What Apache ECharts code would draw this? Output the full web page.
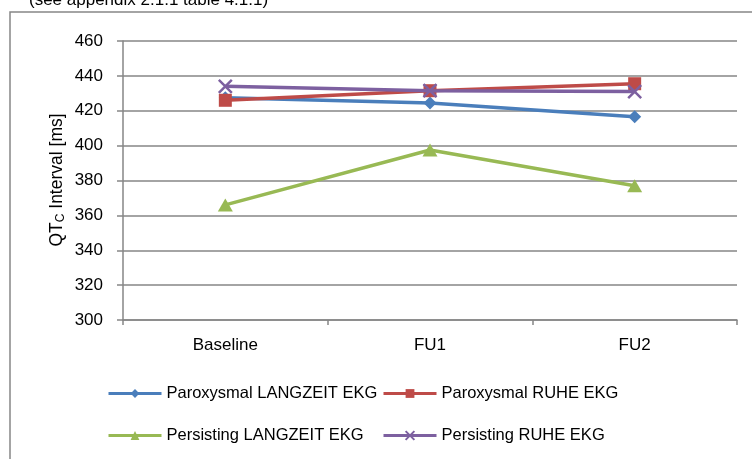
<!DOCTYPE html>
<html>
<head>
<meta charset="utf-8">
<script src="https://cdn.jsdelivr.net/npm/echarts@6/dist/echarts.min.js"></script>
<style>
html,body{margin:0;padding:0;background:#fff;}
#c{width:752px;height:459px;}
</style>
</head>
<body>
<div id="c"></div>
<script>
const categories = ['Baseline', 'FU1', 'FU2'];
const seriesNames = ['Paroxysmal LANGZEIT EKG', 'Paroxysmal RUHE EKG', 'Persisting LANGZEIT EKG', 'Persisting RUHE EKG'];
const paroxysmalLangzeit = [427.5, 424.5, 416.5];
const paroxysmalRuhe = [426, 431.5, 435.5];
const persistingLangzeit = [366, 397.5, 377];
const persistingRuhe = [434, 431.5, 431];
const yMin = 300, yMax = 460, yStep = 20;
const yAxisTitle = '{a|QT}{s|C}{a| Interval [ms]}';
const topNote = '(see appendix 2.1.1 table 4.1.1)';

const FONT = '"Liberation Sans", Arial, sans-serif';
const GRAY = '#868686';
const colors = ['#4A7EBB', '#BE4B48', '#98B954', '#7D60A0'];
const symbols = ['diamond', 'rect', 'triangle', 'path://M0,0L10,10M10,0L0,10'];
const sizes = [13, 13, [15, 13], 13];
const dataSets = [paroxysmalLangzeit, paroxysmalRuhe, persistingLangzeit, persistingRuhe];

const chart = echarts.init(document.getElementById('c'), null, {renderer: 'canvas'});

const series = seriesNames.map((name, i) => ({
  name: name,
  type: 'line',
  data: dataSets[i],
  symbol: symbols[i],
  symbolSize: sizes[i],
  showAllSymbol: true,
  lineStyle: {color: colors[i], width: 3.5},
  itemStyle: i === 3
    ? {color: 'rgba(0,0,0,0)', borderColor: colors[i], borderWidth: 2.5}
    : {color: colors[i]},
  emphasis: {disabled: true},
  animation: false,
  z: 2 + i
}));

const legendCommon = {
  orient: 'vertical',
  padding: 0,
  itemWidth: 53,
  itemHeight: 11,
  itemGap: 25,
  lineStyle: {width: 3},
  textStyle: {fontFamily: FONT, fontSize: 16.5, color: '#000'},
  selectedMode: false
};

chart.setOption({
  animation: false,
  backgroundColor: '#fff',
  grid: {left: 123, right: 15, top: 41, bottom: 139, containLabel: false},
  graphic: [
    {type: 'rect', shape: {x: 10, y: 12, width: 800, height: 500}, style: {fill: 'none', stroke: GRAY, lineWidth: 1.5}, z: 0, silent: true},
    {type: 'text', x: 29, y: 9, style: {text: topNote, font: '17px ' + FONT, fill: '#000', verticalAlign: 'bottom'}, silent: true},
    {type: 'text', x: 57, y: 180, rotation: Math.PI / 2, silent: true,
      style: {
        text: yAxisTitle,
        align: 'center',
        verticalAlign: 'middle',
        rich: {
          a: {fontFamily: FONT, fontSize: 17.5, fill: '#000'},
          s: {fontFamily: FONT, fontSize: 12, fill: '#000', verticalAlign: 'bottom', padding: [8, 0, 0, 0]}
        }
      }
    }
  ],
  legend: [
    Object.assign({}, legendCommon, {data: [seriesNames[0], seriesNames[2]], left: 107, top: 385}),
    Object.assign({}, legendCommon, {data: [seriesNames[1], seriesNames[3]], left: 382, top: 385})
  ],
  xAxis: {
    type: 'category',
    data: categories,
    boundaryGap: true,
    axisLine: {lineStyle: {color: GRAY, width: 1.5}},
    axisTick: {show: true, length: 5, lineStyle: {color: GRAY, width: 1.5}},
    axisLabel: {fontFamily: FONT, fontSize: 17, color: '#000', margin: 17},
    splitLine: {show: false}
  },
  yAxis: {
    type: 'value',
    min: yMin,
    max: yMax,
    interval: yStep,
    axisLine: {show: true, lineStyle: {color: GRAY, width: 1.5}},
    axisTick: {show: true, length: 6, lineStyle: {color: GRAY, width: 1.5}},
    axisLabel: {fontFamily: FONT, fontSize: 17, color: '#000', margin: 20},
    splitLine: {show: true, lineStyle: {color: GRAY, width: 1.5}}
  },
  series: series
});
</script>
</body>
</html>
